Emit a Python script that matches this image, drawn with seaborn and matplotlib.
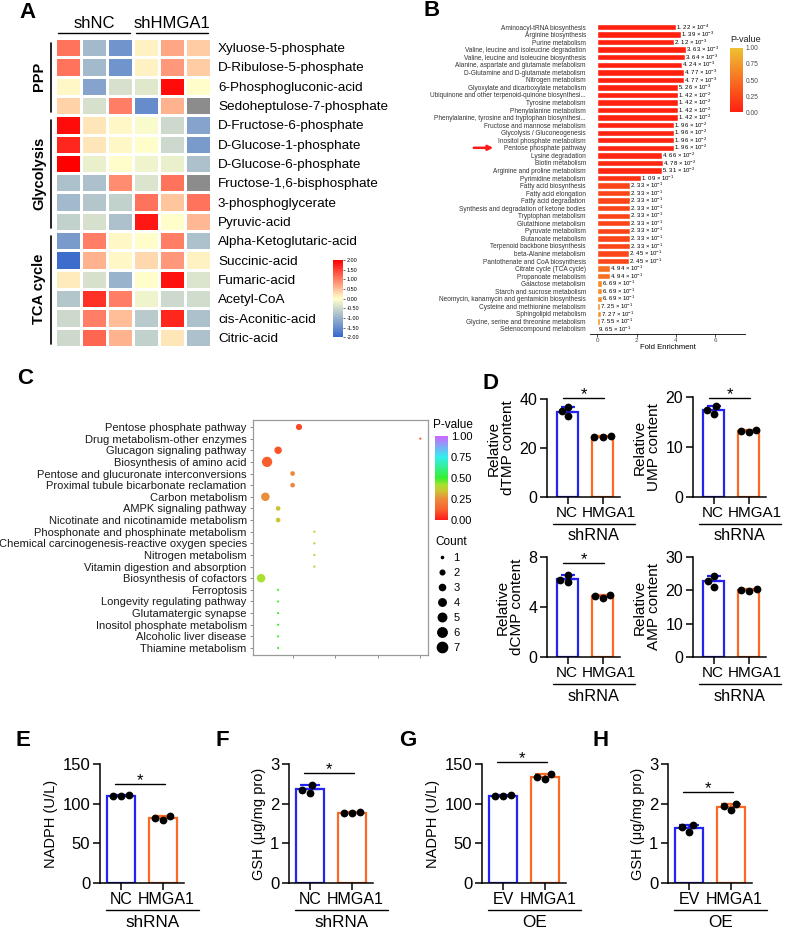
import numpy as np
import pandas as pd
import matplotlib
matplotlib.use("Agg")
import matplotlib.pyplot as plt
import seaborn as sns
from matplotlib.colors import LinearSegmentedColormap, Normalize
from matplotlib.cm import ScalarMappable
from matplotlib.lines import Line2D

sns.set_style("ticks", {"axes.edgecolor": "black", "xtick.color": "black", "ytick.color": "black",
                        "text.color": "black", "axes.labelcolor": "black"})
plt.rcParams['font.family'] = ['Liberation Sans', 'DejaVu Sans']
plt.rcParams['mathtext.fontset'] = 'custom'
plt.rcParams['mathtext.rm'] = 'Liberation Sans'
plt.rcParams['mathtext.it'] = 'Liberation Sans:italic'
plt.rcParams['mathtext.bf'] = 'Liberation Sans:bold'

# ---------------- data ----------------
# A: heatmap (z-scores)
metabolites = ["Xyluose-5-phosphate", "D-Ribulose-5-phosphate", "6-Phosphogluconic-acid",
               "Sedoheptulose-7-phosphate", "D-Fructose-6-phosphate", "D-Glucose-1-phosphate",
               "D-Glucose-6-phosphate", "Fructose-1,6-bisphosphate", "3-phosphoglycerate",
               "Pyruvic-acid", "Alpha-Ketoglutaric-acid", "Succinic-acid", "Fumaric-acid",
               "Acetyl-CoA", "cis-Aconitic-acid", "Citric-acid"]
pathway_groups = ["PPP"] * 4 + ["Glycolysis"] * 6 + ["TCA cycle"] * 6
samples = ["shNC-1", "shNC-2", "shNC-3", "shHMGA1-1", "shHMGA1-2", "shHMGA1-3"]
nan = np.nan
zscores = [
    [1.1, -0.9, -1.4, 0.1, 0.7, 0.4],
    [1.1, -0.9, -1.4, 0.1, 0.8, 0.4],
    [0.05, -1.2, -0.4, -0.3, 1.9, 0.0],
    [0.35, -0.4, 1.0, -1.5, 0.6, nan],
    [1.9, 0.2, 0.05, -0.05, -0.5, -1.2],
    [1.7, 0.2, 0.05, 0.0, -0.5, -1.3],
    [2.0, -0.2, 0.0, -0.15, -0.2, -0.8],
    [-0.8, -0.8, 0.9, -0.35, 1.1, nan],
    [-0.9, -0.75, -0.6, 1.1, 0.45, 1.1],
    [-0.6, -0.4, -0.8, 1.8, 0.0, 0.55],
    [-1.3, 1.0, 0.05, 0.0, 1.0, -0.8],
    [-1.9, 0.6, 0.05, 0.3, 0.8, 0.1],
    [0.15, -0.4, -1.0, 0.0, 1.85, -0.35],
    [-0.75, 1.6, 1.0, -0.15, -0.5, -0.45],
    [-0.5, 1.0, 0.5, -0.7, 1.7, -0.8],
    [-0.5, 1.2, 0.6, -0.6, 0.2, -0.8],
]

# B: KEGG enrichment bar chart
kegg_terms = ["Aminoacyl-tRNA biosynthesis", "Arginine biosynthesis", "Purine metabolism",
              "Valine, leucine and isoleucine degradation", "Valine, leucine and isoleucine biosynthesis",
              "Alanine, aspartate and glutamate metabolism", "D-Glutamine and D-glutamate metabolism",
              "Nitrogen metabolism", "Glyoxylate and dicarboxylate metabolism",
              "Ubiquinone and other terpenoid-quinone biosynthesi...", "Tyrosine metabolism",
              "Phenylalanine metabolism", "Phenylalanine, tyrosine and tryptophan biosynthesi...",
              "Fructose and mannose metabolism", "Glycolysis / Gluconeogenesis",
              "Inositol phosphate metabolism", "Pentose phosphate pathway", "Lysine degradation",
              "Biotin metabolism", "Arginine and proline metabolism", "Pyrimidine metabolism",
              "Fatty acid biosynthesis", "Fatty acid elongation", "Fatty acid degradation",
              "Synthesis and degradation of ketone bodies", "Tryptophan metabolism",
              "Glutathione metabolism", "Pyruvate metabolism", "Butanoate metabolism",
              "Terpenoid backbone biosynthesis", "beta-Alanine metabolism",
              "Pantothenate and CoA biosynthesis", "Citrate cycle (TCA cycle)", "Propanoate metabolism",
              "Galactose metabolism", "Starch and sucrose metabolism",
              "Neomycin, kanamycin and gentamicin biosynthesis", "Cysteine and methionine metabolism",
              "Sphingolipid metabolism", "Glycine, serine and threonine metabolism",
              "Selenocompound metabolism"]
fold_enrichment = [4.0, 4.25, 3.9, 4.5, 4.45, 4.3, 4.4, 4.4, 4.1, 4.1, 4.1, 4.1, 4.1,
                   3.9, 3.9, 3.9, 3.9, 3.3, 3.35, 3.3, 2.2, 1.66, 1.66, 1.66, 1.66, 1.66,
                   1.66, 1.66, 1.66, 1.66, 1.6, 1.6, 0.65, 0.65, 0.25, 0.25, 0.25, 0.15,
                   0.17, 0.15, 0.03]
kegg_pvalues = [1.22e-4, 1.39e-3, 2.12e-3, 3.63e-3, 3.64e-3, 4.24e-3, 4.77e-3, 4.77e-3, 5.26e-3,
                1.42e-2, 1.42e-2, 1.42e-2, 1.42e-2, 1.96e-2, 1.96e-2, 1.96e-2, 1.96e-2, 4.66e-2,
                4.78e-2, 5.31e-2, 1.09e-1, 2.33e-1, 2.33e-1, 2.33e-1, 2.33e-1, 2.33e-1, 2.33e-1,
                2.33e-1, 2.33e-1, 2.33e-1, 2.45e-1, 2.45e-1, 4.94e-1, 4.94e-1, 6.69e-1, 6.69e-1,
                6.69e-1, 7.25e-1, 7.27e-1, 7.55e-1, 9.65e-1]

# C: bubble plot
bubble_terms = ["Pentose phosphate pathway", "Drug metabolism-other enzymes", "Glucagon signaling pathway",
                "Biosynthesis of amino acid", "Pentose and glucuronate interconversions",
                "Proximal tubule bicarbonate reclamation", "Carbon metabolism", "AMPK signaling pathway",
                "Nicotinate and nicotinamide metabolism", "Phosphonate and phosphinate metabolism",
                "Chemical carcinogenesis-reactive oxygen species", "Nitrogen metabolism",
                "Vitamin digestion and absorption", "Biosynthesis of cofactors", "Ferroptosis",
                "Longevity regulating pathway", "Glutamatergic synapse", "Inositol phosphate metabolism",
                "Alcoholic liver disease", "Thiamine metabolism"]
bubble_x = [1.15, 4.0, 0.66, 0.40, 1.0, 1.0, 0.36, 0.66, 0.66, 1.51, 1.51, 1.51, 1.51, 0.26,
            0.66, 0.66, 0.66, 0.66, 0.66, 0.66]
bubble_p = [0.08, 0.12, 0.10, 0.12, 0.24, 0.24, 0.26, 0.35, 0.35, 0.37, 0.37, 0.37, 0.37, 0.42,
            0.49, 0.49, 0.49, 0.49, 0.49, 0.49]
bubble_count = [3, 1, 4, 7, 2, 2, 5, 2, 2, 1, 1, 1, 1, 5, 1, 1, 1, 1, 1, 1]

# D-H: bar + dot panels
dTMP_nc, dTMP_hm = [32.9, 34.9, 36.6], [24.4, 24.8, 24.6]
UMP_nc, UMP_hm = [16.6, 17.4, 18.1], [12.9, 13.4, 13.1]
dCMP_nc, dCMP_hm = [5.97, 6.6, 6.2], [4.75, 4.97, 4.89]
AMP_nc, AMP_hm = [21.1, 22.7, 24.2], [19.9, 20.4, 20.2]
NADPH_sh_nc, NADPH_sh_hm = [109.5, 110.5, 110.2], [79.8, 84.5, 82.3]
GSH_sh_nc, GSH_sh_hm = [2.28, 2.47, 2.34], [1.76, 1.80, 1.77]
NADPH_oe_ev, NADPH_oe_hm = [109.8, 110.8, 110.0], [131.0, 137.5, 134.0]
GSH_oe_ev, GSH_oe_hm = [1.46, 1.29, 1.40], [1.93, 1.83, 1.99]

BLUE = "#2323F2"
ORANGE = "#FB6A24"

# ---------------- figure helpers ----------------
W, H = 790, 930
fig = plt.figure(figsize=(W / 100, H / 100), dpi=100)


def add_ax(x0, y0, x1, y1):
    return fig.add_axes([x0 / W, 1 - y1 / H, (x1 - x0) / W, (y1 - y0) / H])


def fline(x0, y0, x1, y1, **kw):
    fig.add_artist(Line2D([x0 / W, x1 / W], [1 - y0 / H, 1 - y1 / H], transform=fig.transFigure, **kw))


def ftext(x, y, s, **kw):
    fig.text(x / W, 1 - y / H, s, **kw)


for lab, (x, y) in {"A": (27, 13), "B": (432, 11), "C": (25, 378), "D": (491, 383),
                    "E": (23, 740), "F": (222, 740), "G": (408, 740), "H": (601, 740)}.items():
    ftext(x, y, lab, fontsize=16, fontweight="bold", ha="center", va="center")

# ---------------- A: heatmap ----------------
hx0, hy0, hx1, hy1 = 55, 38, 211, 347
axA = add_ax(hx0, hy0, hx1, hy1)
row_h = (hy1 - hy0) / len(metabolites)
col_w = (hx1 - hx0) / len(samples)
caxA = add_ax(333, hy0 + 11.5 * row_h, 343, hy0 + 15.5 * row_h)
heat_cmap = LinearSegmentedColormap.from_list("heat", ["#3366CC", "#FFFFCC", "#FF0000"])
dfA = pd.DataFrame(zscores, index=metabolites, columns=samples)
axA.set_facecolor("#8C8C8C")
sns.heatmap(dfA, ax=axA, cmap=heat_cmap, vmin=-2, vmax=2, cbar_ax=caxA, linewidths=0.8,
            linecolor="white", xticklabels=False, yticklabels=True)
axA.yaxis.tick_right()
axA.set_yticklabels(metabolites, rotation=0, fontsize=9.7)
axA.tick_params(length=0, pad=5)
axA.set_xlabel("")
axA.set_ylabel("")
cbA = axA.collections[0].colorbar
cbA.outline.set_visible(False)
cbA.set_ticks(np.arange(-2, 2.01, 0.5))
cbA.set_ticklabels([f"{t:.2f}" for t in np.arange(-2, 2.01, 0.5)])
caxA.tick_params(labelsize=4, length=1.5, width=0.4, pad=1)

for g in ["PPP", "Glycolysis", "TCA cycle"]:
    idx = [i for i, p in enumerate(pathway_groups) if p == g]
    top, bot = hy0 + idx[0] * row_h, hy0 + (idx[-1] + 1) * row_h
    fline(51, top + 5, 51, bot - 3, color="black", lw=1.2)
    ftext(39, (top + bot) / 2, g, rotation=90, fontsize=10.5, fontweight="bold", ha="center", va="center")
for name, c0 in [("shNC", 0), ("shHMGA1", 3)]:
    ftext(hx0 + (c0 + 1.5) * col_w, 24, name, fontsize=12, ha="center", va="center")
    fline(hx0 + c0 * col_w + 3, 33, hx0 + (c0 + 3) * col_w - 3, 33, color="black", lw=1.0)

# ---------------- B: enrichment bars ----------------
axB = add_ax(590, 22.5, 745, 333.5)
pv_cmap = LinearSegmentedColormap.from_list("pv", ["#FF2010", "#EFC133"])
bar_colors = {t: pv_cmap(p) for t, p in zip(kegg_terms, kegg_pvalues)}
dfB = pd.DataFrame({"term": kegg_terms, "fold": fold_enrichment, "p": kegg_pvalues})
sns.barplot(data=dfB, x="fold", y="term", hue="term", palette=bar_colors, orient="h", width=0.85,
            saturation=1, legend=False, ax=axB)
axB.set_xlim(-0.37, 7.5)
axB.set_ylim(len(kegg_terms) - 0.4, -0.6)
for s in ["left", "top", "right"]:
    axB.spines[s].set_visible(False)
axB.spines["bottom"].set_linewidth(0.6)
axB.set_xticks([0, 2, 4, 6])
axB.tick_params(axis="x", labelsize=4.5, labelcolor="#4D4D4D", length=2, width=0.5, pad=1)
axB.tick_params(axis="y", labelsize=4.7, labelcolor="#333333", length=0, pad=3)
axB.set_xlabel("Fold Enrichment", fontsize=5.5, labelpad=1)
axB.set_ylabel("")
for i, (fe, p) in enumerate(zip(fold_enrichment, kegg_pvalues)):
    e = int(np.floor(np.log10(p)))
    m = p / 10 ** e
    lab = f"{m:.2f}".replace(".", ". ") + r" × 10$^{" + str(e) + "}$"
    axB.text(fe, i, lab, fontsize=4.3, va="center", ha="left")
ppp_row = kegg_terms.index("Pentose phosphate pathway")
axB.annotate("", xy=(496 / W, ppp_row), xytext=(471 / W, ppp_row),
             xycoords=("figure fraction", "data"), textcoords=("figure fraction", "data"),
             arrowprops=dict(arrowstyle="-|>", color="#FF1A1A", lw=1.8, mutation_scale=7))
caxB = add_ax(730, 48, 743, 112)
cbB = fig.colorbar(ScalarMappable(Normalize(0, 1), pv_cmap), cax=caxB)
cbB.outline.set_visible(False)
cbB.set_ticks([0, 0.25, 0.5, 0.75, 1])
cbB.set_ticklabels(["0.00", "0.25", "0.50", "0.75", "1.00"])
caxB.tick_params(labelsize=4.8, labelcolor="#4D4D4D", length=0, pad=2)
ftext(730, 40, "P-value", fontsize=6.5, va="center", color="#222222")

# ---------------- C: bubble plot ----------------
axC = add_ax(253, 420, 428, 655)
bub_cmap = LinearSegmentedColormap.from_list(
    "bub", [(0.0, "#FF1A1A"), (0.12, "#F8602E"), (0.25, "#EC8A3C"), (0.35, "#C8C832"),
            (0.42, "#A8E030"), (0.5, "#33F033"), (0.75, "#33EEEE"), (1.0, "#CC66FF")])
dfC = pd.DataFrame({"term": bubble_terms, "x": bubble_x, "p": bubble_p, "count": bubble_count})
size_range = (2.5, 55)
sns.scatterplot(data=dfC, x="x", y="term", hue="p", size="count", palette=bub_cmap, hue_norm=(0, 1),
                sizes=size_range, size_norm=(1, 7), linewidth=0, legend=False, ax=axC)
axC.set_xlim(0.07, 4.18)
axC.set_ylim(len(bubble_terms) - 0.4, -0.6)
axC.set_xticks([1, 2, 3, 4])
axC.set_xticklabels([])
axC.set_xlabel("")
axC.set_ylabel("")
for s in axC.spines.values():
    s.set_color("#9A9A9A")
    s.set_linewidth(0.9)
axC.tick_params(axis="both", color="#7A7A7A", length=2.5, width=0.6)
axC.tick_params(axis="y", labelsize=8, labelcolor="#1A1A1A", pad=2)
caxC = add_ax(435, 436, 448, 520)
cbC = fig.colorbar(ScalarMappable(Normalize(0, 1), bub_cmap), cax=caxC)
cbC.outline.set_visible(False)
cbC.set_ticks([0, 0.25, 0.5, 0.75, 1])
cbC.set_ticklabels(["0.00", "0.25", "0.50", "0.75", "1.00"])
caxC.tick_params(labelsize=8, length=0, pad=2)
ftext(433, 425, "P-value", fontsize=8.5, va="center")
handles = []
for c in range(1, 8):
    s = size_range[0] + (c - 1) / 6 * (size_range[1] - size_range[0])
    handles.append(Line2D([], [], marker="o", linestyle="", color="black", markersize=np.sqrt(s)))
leg = fig.legend(handles, [str(c) for c in range(1, 8)], title="Count", loc="upper left",
                 bbox_to_anchor=(430 / W, 1 - 530 / H), frameon=False, fontsize=8, title_fontsize=8.5,
                 labelspacing=0.45, handletextpad=0.4, borderpad=0, handlelength=1.2)
leg._legend_box.align = "left"


# ---------------- D-H: bar panels ----------------
def bar_panel(box, cats, a_vals, b_vals, ylim, yticks, ylabel, group, sig_y, xlim, width,
              tick_fs, lab_fs, cap, label_shift):
    x0, y0, x1, y1 = box
    ax = add_ax(x0, y0, x1, y1)
    df = pd.DataFrame({"group": [cats[0]] * len(a_vals) + [cats[1]] * len(b_vals),
                       "value": a_vals + b_vals})
    sns.barplot(data=df, x="group", y="value", hue="group", palette=[BLUE, ORANGE], fill=False,
                errorbar=None, width=width, linewidth=1.6, saturation=1, legend=False, ax=ax)
    stats = df.groupby("group", sort=False)["value"].agg(["mean", "std"])
    for i, (m, s) in enumerate(zip(stats["mean"], stats["std"])):
        ax.errorbar(i, m, yerr=[[0], [s]], color=[BLUE, ORANGE][i], capsize=cap,
                    elinewidth=1.6, capthick=1.6)
    sns.swarmplot(data=df, x="group", y="value", color="black", size=5.6, ax=ax)
    ax.set_xlim(*xlim)
    ax.set_ylim(*ylim)
    ax.set_yticks(yticks)
    ax.set_xticks([0, 1])
    ax.set_xticklabels([])
    for i, (cat, dx) in enumerate(zip(cats, label_shift)):
        ax.annotate(cat, xy=(i, 0), xycoords=("data", "axes fraction"), xytext=(dx, -6.5),
                    textcoords="offset points", ha="center", va="top", fontsize=tick_fs,
                    annotation_clip=False)
    sns.despine(ax=ax)
    for s in ["left", "bottom"]:
        ax.spines[s].set_linewidth(1.1)
    ax.tick_params(length=5, width=1.1, labelsize=tick_fs + 0.5, pad=2)
    ax.set_xlabel("")
    ax.set_ylabel(ylabel, fontsize=lab_fs, linespacing=1.05, labelpad=3)
    if sig_y is not None:
        ax.plot([-0.15, 1.05], [sig_y, sig_y], color="black", lw=1.0, clip_on=False)
        ax.annotate("*", xy=(0.45, sig_y), xytext=(0, -3), textcoords="offset points",
                    ha="center", va="bottom", fontsize=12, annotation_clip=False)
    fline(x0 + 6, y1 + 27, x1 + 15, y1 + 27, color="black", lw=1.0)
    ftext((x0 + 6 + x1 + 15) / 2, y1 + 39, group, fontsize=tick_fs + 0.8, ha="center", va="center")
    return ax


dxl = (-0.6, 1.5)
exl = (-0.5, 1.5)
dsh = (-1, 4.5)
esh = (0, 2)
bar_panel((547, 399, 620, 497), ["NC", "HMGA1"], dTMP_nc, dTMP_hm, (0, 40), [0, 20, 40],
          "Relative\ndTMP content", "shRNA", 40.5, dxl, 0.6, 11, 11, 5, dsh)
bar_panel((693, 397, 766, 497), ["NC", "HMGA1"], UMP_nc, UMP_hm, (0, 20), [0, 10, 20],
          "Relative\nUMP content", "shRNA", 19.8, dxl, 0.6, 11, 11, 5, dsh)
bar_panel((547, 557, 620, 657), ["NC", "HMGA1"], dCMP_nc, dCMP_hm, (0, 8), [0, 4, 8],
          "Relative\ndCMP content", "shRNA", 7.5, dxl, 0.6, 11, 11, 5, dsh)
bar_panel((693, 557, 766, 657), ["NC", "HMGA1"], AMP_nc, AMP_hm, (0, 30), [0, 10, 20, 30],
          "Relative\nAMP content", "shRNA", None, dxl, 0.6, 11, 11, 5, dsh)
bar_panel((100, 764, 184, 883), ["NC", "HMGA1"], NADPH_sh_nc, NADPH_sh_hm, (0, 150), [0, 50, 100, 150],
          "NADPH (U/L)", "shRNA", 124.7, exl, 0.67, 11.5, 10.5, 7.5, esh)
bar_panel((289, 764, 373, 883), ["NC", "HMGA1"], GSH_sh_nc, GSH_sh_hm, (0, 3), [0, 1, 2, 3],
          "GSH (μg/mg pro)", "shRNA", 2.77, exl, 0.67, 11.5, 10.5, 7.5, esh)
bar_panel((482, 764, 566, 883), ["EV", "HMGA1"], NADPH_oe_ev, NADPH_oe_hm, (0, 150), [0, 50, 100, 150],
          "NADPH (U/L)", "OE", 152.5, exl, 0.67, 11.5, 10.5, 7.5, esh)
bar_panel((668, 764, 752, 883), ["EV", "HMGA1"], GSH_oe_ev, GSH_oe_hm, (0, 3), [0, 1, 2, 3],
          "GSH (μg/mg pro)", "OE", 2.29, exl, 0.67, 11.5, 10.5, 7.5, esh)

fig.savefig("out.png", dpi=100)
